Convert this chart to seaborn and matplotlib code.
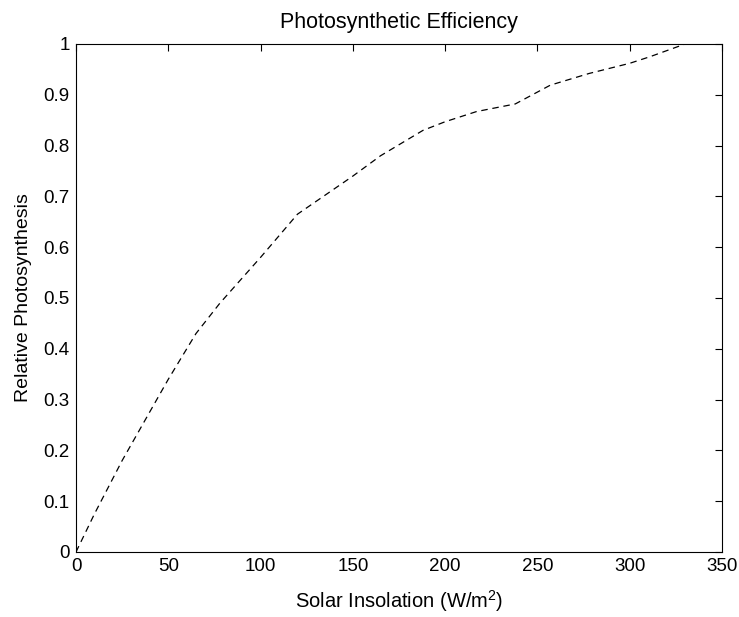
import matplotlib
matplotlib.use("Agg")
import matplotlib.pyplot as plt
import seaborn as sns
import pandas as pd

insolation = [0, 10, 25, 50, 65, 78, 100, 120, 150, 165, 188, 200, 217, 238, 257, 278, 300, 311, 330]
relative_ps = [0, 0.075, 0.18, 0.34, 0.43, 0.49, 0.58, 0.665, 0.74, 0.78, 0.83, 0.847, 0.867, 0.882,
               0.919, 0.942, 0.962, 0.975, 1.0]
x_ticks = [0, 50, 100, 150, 200, 250, 300, 350]
y_ticks = [0, 0.1, 0.2, 0.3, 0.4, 0.5, 0.6, 0.7, 0.8, 0.9, 1.0]
y_tick_labels = ["0", "0.1", "0.2", "0.3", "0.4", "0.5", "0.6", "0.7", "0.8", "0.9", "1"]

sns.set_style("white")
plt.rcParams['font.family'] = ['Liberation Sans', 'DejaVu Sans']
plt.rcParams['mathtext.fontset'] = 'custom'
plt.rcParams['mathtext.rm'] = 'Liberation Sans'
plt.rcParams['text.color'] = 'black'
plt.rcParams['axes.labelcolor'] = 'black'

df = pd.DataFrame({"x": insolation, "y": relative_ps})

fig = plt.figure(figsize=(7.39, 6.17), dpi=100)
ax = fig.add_axes([76/739, 65/617, 646/739, 508/617])
sns.lineplot(data=df, x="x", y="y", ax=ax, color="black", linewidth=0.9, estimator=None, sort=False)
ax.lines[0].set_linestyle((0, (5.2, 3.8)))

ax.set_xlim(0, 350)
ax.set_ylim(0, 1)
ax.set_xticks(x_ticks)
ax.set_xticklabels([str(t) for t in x_ticks])
ax.set_yticks(y_ticks)
ax.set_yticklabels(y_tick_labels)
ax.tick_params(direction="in", length=5, width=0.8, top=True, right=True, labelsize=13.5,
               colors="black", pad=4.5)
for s in ax.spines.values():
    s.set_color("black")
    s.set_linewidth(0.8)
    s.set_visible(True)

ax.set_title("Photosynthetic Efficiency", fontsize=15.5, pad=11.3, color="black")
ax.set_xlabel("Solar Insolation (W/m$^2$)", fontsize=14.5, color="black")
ax.set_ylabel("Relative Photosynthesis", fontsize=14, color="black")
ax.xaxis.set_label_coords(0.5, -0.072)
ax.yaxis.set_label_coords(-0.068, 0.5)

fig.savefig("out.png", dpi=100, facecolor="white")
